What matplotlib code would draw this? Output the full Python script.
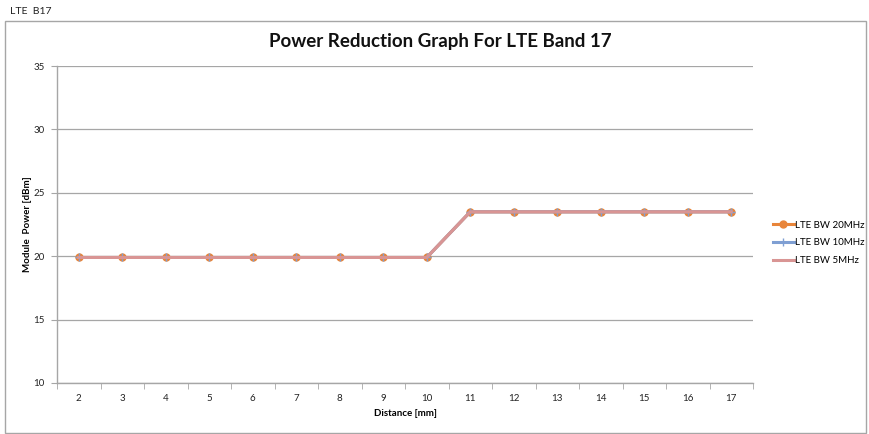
import matplotlib.pyplot as plt
from matplotlib.patches import Rectangle

plt.rcParams['font.family'] = ['Lato', 'DejaVu Sans']

# Datos
distances = [2, 3, 4, 5, 6, 7, 8, 9, 10, 11, 12, 13, 14, 15, 16, 17]
bw_20mhz = [19.9] * 9 + [23.5] * 7
bw_10mhz = [19.9] * 9 + [23.5] * 7
bw_5mhz = [19.9] * 9 + [23.5] * 7
y_ticks = [10, 15, 20, 25, 30, 35]

fig = plt.figure(figsize=(8.7, 4.34), dpi=100)
ax = fig.add_axes([57 / 870, 1 - 383 / 434, 696 / 870, 317 / 434])

# Marco exterior y etiqueta
fig.patches.append(Rectangle((5 / 870, 1 - 433 / 434), 861 / 870, 412 / 434,
                             transform=fig.transFigure, fill=False,
                             edgecolor='#a6a6a6', linewidth=1))
fig.text(10 / 870, 1 - 12 / 434, "LTE  B17", fontsize=7.5, va='center', color='#222222')

x = list(range(len(distances)))
ax.plot(x, bw_20mhz, color='#E8853A', linewidth=2.2, marker='o', markersize=5,
        label='LTE BW 20MHz', zorder=3)
ax.plot(x, bw_10mhz, color='#7F9FD3', linewidth=2.2, marker='+', markersize=6,
        label='LTE BW 10MHz', zorder=4)
ax.plot(x, bw_5mhz, color='#D99594', linewidth=2.2, label='LTE BW 5MHz', zorder=5)

ax.set_xlim(-0.5, len(distances) - 0.5)
ax.set_ylim(10, 35)
ax.set_yticks(y_ticks)
ax.set_xticks(x)
ax.set_xticklabels([str(d) for d in distances])
ax.set_xticks([i - 0.5 for i in range(len(distances) + 1)], minor=True)
ax.tick_params(axis='x', which='major', length=0, labelsize=7, pad=8, colors='#222222')
ax.tick_params(axis='x', which='minor', length=4, color='#a6a6a6')
ax.tick_params(axis='y', length=4, labelsize=7, pad=5, labelcolor='#222222', color='#a6a6a6')

ax.grid(axis='y', color='#a6a6a6', linewidth=0.9)
ax.set_axisbelow(True)
for s in ['top', 'right']:
    ax.spines[s].set_visible(False)
for s in ['left', 'bottom']:
    ax.spines[s].set_color('#a6a6a6')
    ax.spines[s].set_linewidth(1)

ax.set_xlabel("Distance [mm]", fontsize=7, fontweight='bold', labelpad=4)
ax.set_ylabel("Module  Power [dBm]", fontsize=7, fontweight='bold')
ax.yaxis.set_label_coords(-24.5 / 696, 0.5)
fig.text(440 / 870, 1 - 42 / 434, "Power Reduction Graph For LTE Band 17",
         fontsize=13.5, fontweight='bold', ha='center', va='center', color='#111111')

ax.legend(loc='center left', bbox_to_anchor=(764 / 870, 1 - 243 / 434),
          bbox_transform=fig.transFigure, frameon=False, fontsize=7,
          handlelength=2.2, handletextpad=0.1, labelspacing=0.9)

fig.savefig("out.png", dpi=100)
